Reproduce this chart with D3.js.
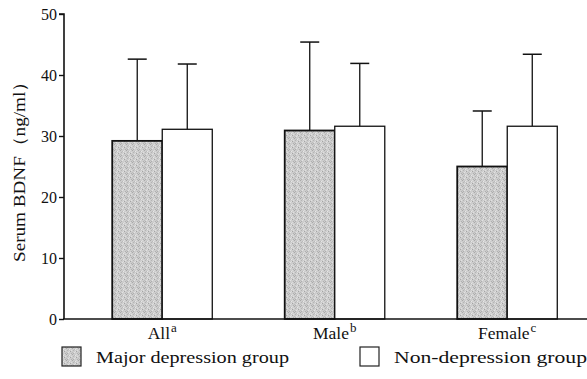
<!DOCTYPE html>
<html>
<head>
<meta charset="utf-8">
<script src="https://cdn.jsdelivr.net/npm/d3@7"></script>
<style>
html,body{margin:0;padding:0;background:#fff;}
svg{display:block;}
text{font-family:"Liberation Serif","Times New Roman",serif;fill:#111;}
</style>
</head>
<body>
<svg id="chart" width="587" height="379"></svg>
<script>
const categories = ["All", "Male", "Female"];
const superscripts = ["a", "b", "c"];
const seriesNames = ["Major depression group", "Non-depression group"];
const majorMeans = [29.2, 30.9, 25.0];
const majorUpper = [42.6, 45.4, 34.1];
const nonMeans = [31.1, 31.6, 31.6];
const nonUpper = [41.8, 41.9, 43.4];
const yTicks = [0, 10, 20, 30, 40, 50];

const svg = d3.select("#chart");
const defs = svg.append("defs");
// stippled gray pattern
const pat = defs.append("pattern").attr("id", "stip").attr("patternUnits", "userSpaceOnUse")
  .attr("width", 6).attr("height", 6);
pat.append("rect").attr("width", 6).attr("height", 6).attr("fill", "#cdcdcd");
const specks = [[0,0,"#a9a9a9"],[3,1,"#e6e6e6"],[1,2,"#b4b4b4"],[4,3,"#a4a4a4"],[2,4,"#e2e2e2"],[5,5,"#b0b0b0"],[0,4,"#bcbcbc"],[4,0,"#dcdcdc"],[2,1,"#bababa"],[5,2,"#e0e0e0"],[1,5,"#aeaeae"],[3,3,"#dedede"]];
specks.forEach(s => pat.append("rect").attr("x", s[0]).attr("y", s[1]).attr("width", 1).attr("height", 1).attr("fill", s[2]));

const y = d3.scaleLinear().domain([0, 50]).range([319, 14]);
const x0 = d3.scaleBand().domain(categories).range([76, 593.5]).paddingInner(0.42).paddingOuter(0.21);
const x1 = d3.scaleBand().domain(seriesNames).range([0, x0.bandwidth()]);

const data = categories.map((c, i) => ({
  cat: c, sup: superscripts[i],
  vals: [
    {s: seriesNames[0], v: majorMeans[i], u: majorUpper[i]},
    {s: seriesNames[1], v: nonMeans[i], u: nonUpper[i]}
  ]
}));

const fills = {[seriesNames[0]]: "url(#stip)", [seriesNames[1]]: "#fff"};
const strokeW = {[seriesNames[0]]: 1.8, [seriesNames[1]]: 1.3};

const g = svg.append("g");
data.forEach(d => {
  d.vals.forEach(b => {
    const bx = x0(d.cat) + x1(b.s);
    const cx = bx + x1.bandwidth() / 2;
    g.append("line").attr("x1", cx).attr("x2", cx).attr("y1", y(b.v)).attr("y2", y(b.u))
      .attr("stroke", "#111").attr("stroke-width", 1.3);
    g.append("line").attr("x1", cx - 9.5).attr("x2", cx + 9.5).attr("y1", y(b.u)).attr("y2", y(b.u))
      .attr("stroke", "#111").attr("stroke-width", 1.5);
    g.append("rect").attr("x", bx).attr("y", y(b.v)).attr("width", x1.bandwidth()).attr("height", y(0) - y(b.v))
      .attr("fill", fills[b.s]).attr("stroke", "#111").attr("stroke-width", strokeW[b.s]);
  });
});

// y axis
const yAxis = d3.axisLeft(y).tickValues(yTicks).tickSize(5).tickPadding(2).tickFormat(d3.format("d"));
const ya = svg.append("g").attr("transform", "translate(64,0)").call(yAxis);
ya.select(".domain").attr("stroke", "#111").attr("stroke-width", 1.6).attr("d", "M-5,14H0V319");
ya.selectAll(".tick line").attr("stroke", "#111").attr("stroke-width", 1.4);
ya.selectAll(".tick text").attr("font-size", 16).attr("font-family", "Liberation Serif").attr("fill", "#111");

// x axis line
svg.append("line").attr("x1", 63).attr("x2", 587).attr("y1", 319).attr("y2", 319)
  .attr("stroke", "#111").attr("stroke-width", 1.6);

// x labels
data.forEach(d => {
  const cx = x0(d.cat) + x0.bandwidth() / 2;
  const t = svg.append("text").attr("x", cx).attr("y", 339).attr("text-anchor", "middle").attr("font-size", 17.5);
  t.append("tspan").text(d.cat);
  t.append("tspan").attr("dy", -7).attr("font-size", 13).attr("dx", 1).text(d.sup);
});

// y label
svg.append("text").attr("transform", "translate(25,167) rotate(-90)").attr("text-anchor", "middle")
  .attr("font-size", 16.5).attr("textLength", 190).attr("lengthAdjust", "spacingAndGlyphs")
  .text("Serum BDNF（ng/ml）");

// legend
const legendX = [62, 360];
seriesNames.forEach((s, i) => {
  svg.append("rect").attr("x", legendX[i]).attr("y", 347).attr("width", 19).attr("height", 19)
    .attr("fill", fills[s]).attr("stroke", "#222").attr("stroke-width", 1.2);
  svg.append("text").attr("x", legendX[i] + 34).attr("y", 363).attr("font-size", 17.5)
    .attr("textLength", 193).attr("lengthAdjust", "spacingAndGlyphs").text(s);
});
</script>
</body>
</html>
